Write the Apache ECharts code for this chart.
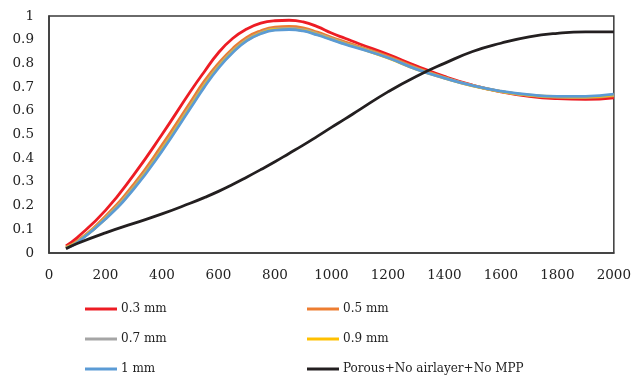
<!DOCTYPE html>
<html>
<head>
<meta charset="utf-8">
<script src="https://cdn.jsdelivr.net/npm/echarts@6/dist/echarts.min.js"></script>
<style>html,body{margin:0;padding:0;background:#fff;}#c{width:634px;height:377px;}</style>
</head>
<body>
<div id="c"></div>
<script>
const xValues = [60,100,200,300,400,500,550,600,650,700,750,800,850,900,950,1000,1050,1100,1200,1300,1400,1500,1600,1700,1800,1900,2000];
const mm03 = [0.03,0.065,0.18,0.33,0.50,0.68,0.765,0.845,0.905,0.945,0.97,0.98,0.982,0.975,0.955,0.928,0.905,0.882,0.838,0.79,0.745,0.708,0.68,0.661,0.651,0.648,0.655];
const mm05 = [0.025,0.05,0.155,0.29,0.455,0.635,0.725,0.80,0.862,0.91,0.938,0.953,0.956,0.95,0.932,0.91,0.89,0.87,0.83,0.782,0.741,0.707,0.682,0.665,0.657,0.656,0.663];
const mm07 = [0.023,0.047,0.148,0.278,0.44,0.62,0.71,0.788,0.852,0.90,0.93,0.946,0.948,0.942,0.925,0.905,0.884,0.866,0.825,0.778,0.739,0.706,0.682,0.666,0.659,0.658,0.666];
const mm09 = [0.022,0.046,0.145,0.274,0.435,0.615,0.705,0.784,0.848,0.897,0.927,0.943,0.945,0.939,0.922,0.902,0.882,0.864,0.823,0.776,0.738,0.705,0.682,0.666,0.66,0.659,0.667];
const mm10 = [0.02,0.044,0.143,0.27,0.43,0.61,0.70,0.78,0.845,0.895,0.925,0.94,0.943,0.937,0.92,0.90,0.88,0.862,0.824,0.776,0.738,0.706,0.683,0.668,0.661,0.661,0.67];
const porous = [0.018,0.04,0.085,0.125,0.165,0.21,0.234,0.26,0.289,0.32,0.352,0.385,0.42,0.455,0.492,0.53,0.567,0.605,0.68,0.745,0.80,0.85,0.885,0.912,0.927,0.933,0.933];

const names = ['0.3 mm','0.5 mm','0.7 mm','0.9 mm','1 mm','Porous+No airlayer+No MPP'];
const colors = ['#ED1C24','#ED7D31','#A5A5A5','#FFC000','#5B9BD5','#231F20'];
const seriesData = [mm03, mm05, mm07, mm09, mm10, porous];

const fontFam = 'DejaVu Serif';
const series = seriesData.map((vals, i) => ({
  name: names[i],
  type: 'line',
  smooth: 0.5,
  showSymbol: false,
  symbol: 'none',
  data: xValues.map((x, j) => [x, vals[j]]),
  lineStyle: { color: colors[i], width: 2.8 },
  itemStyle: { color: colors[i] },
  z: i === 5 ? 3 : 2
}));

const legendPos = [[80,301],[302,301],[80,331],[302,331],[80,361],[302,361]];
const legends = names.map((n, i) => ({
  data: [n],
  left: legendPos[i][0],
  top: legendPos[i][1],
  icon: 'rect',
  itemWidth: 32,
  itemHeight: 3,
  itemGap: 0,
  padding: [0,0,0,5],
  textStyle: { fontFamily: fontFam, fontSize: 12, color: '#222', padding: [0,0,0,-1], lineHeight: 16 },
  selectedMode: false
}));

const chart = echarts.init(document.getElementById('c'), null, { renderer: 'canvas' });
chart.setOption({
  animation: false,
  backgroundColor: '#fff',
  grid: { left: 49, right: 17, top: 16, bottom: 124, show: true, borderColor: '#3a3a3a', borderWidth: 1.5, backgroundColor: 'transparent' },
  legend: legends,
  xAxis: {
    type: 'value', min: 0, max: 2000, interval: 200,
    axisLine: { show: true, lineStyle: { color: '#3a3a3a', width: 1.5 } },
    axisTick: { show: false },
    splitLine: { show: false },
    axisLabel: { fontFamily: fontFam, fontSize: 13.5, color: '#222', margin: 15, formatter: v => String(v) }
  },
  yAxis: {
    type: 'value', min: 0, max: 1, interval: 0.1,
    axisLine: { show: true, lineStyle: { color: '#3a3a3a', width: 1.5 } },
    axisTick: { show: false },
    splitLine: { show: false },
    axisLabel: { fontFamily: fontFam, fontSize: 13.5, color: '#222', margin: 15, formatter: v => String(Math.round(v * 10) / 10) }
  },
  series: series
});
</script>
</body>
</html>
